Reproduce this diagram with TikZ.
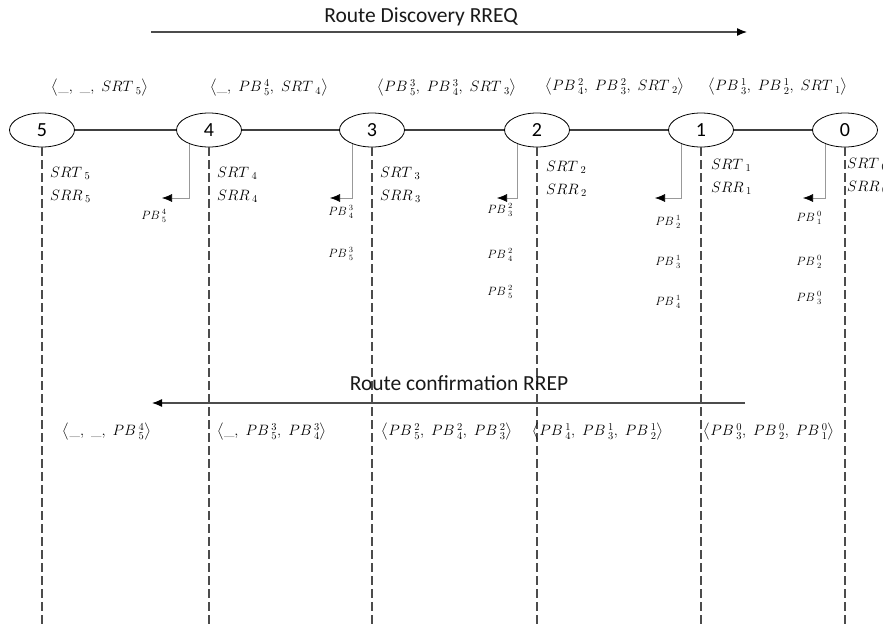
\documentclass[tikz,border=0pt]{standalone}
\usepackage{fix-cm}
\usepackage{amsmath}
\usepackage{fontspec}
\setsansfont{Carlito}
\usepackage{tikz}
\usetikzlibrary{positioning,calc,arrows.meta,shapes.geometric}

\newcommand{\tupl}[3]{$\big\langle #1,\ #2,\ #3\big\rangle$}

\begin{document}
\begin{tikzpicture}[
	x=1pt, y=-1pt,
	station/.style={
		ellipse, draw=black, thick,
		minimum width=65pt, minimum height=34pt, inner sep=0pt,
		font=\sffamily\fontsize{20}{22}\selectfont
	},
	link/.style={draw=black!75, line width=1.3pt},
	lifeline/.style={draw=black!70, line width=1.3pt, dash pattern=on 9pt off 4pt},
	pbarrow/.style={draw=black!40, line width=0.6pt, -{Latex[black,length=10pt,width=8pt]}},
	flow/.style={draw=black!70, line width=1.2pt, -{Latex[black,length=10pt,width=8pt]}},
	flow_text/.style={font=\sffamily\fontsize{21.5}{23}\selectfont, text=black!90},
	lbl/.style={font=\fontsize{15}{17}\selectfont, text=black, anchor=west, inner sep=0pt},
	pb/.style={font=\fontsize{12}{14}\selectfont, text=black, inner sep=0pt},
	tuple/.style={font=\fontsize{15}{17}\selectfont, text=black, inner sep=0pt}
	]
	\useasboundingbox (0,0) rectangle (883,624);
	
	% === ROUTE DISCOVERY (top) ===
	\coordinate (rq_from) at (151,32);
	\coordinate (rq_to) at (747,32);
	\draw[flow] (rq_from) -- (rq_to);
	\node[flow_text] (rq_text) at (421,17) {Route Discovery RREQ};
	
	% === NODES 5 ... 0 ===
	\foreach \k/\x in {5/42, 4/209, 3/372, 2/537, 1/701, 0/845} {
		\node[station] (n\k) at (\x,130) {\k};
		\coordinate (e\k) at (\x,624);
	}
	\foreach \a/\b in {5/4, 4/3, 3/2, 2/1, 1/0} {
		\draw[link] (n\a) -- (n\b);
	}
	% lifelines
	\foreach \k in {5,...,0} {
		\draw[lifeline] (n\k) -- (e\k);
	}
	
	% Tuples above nodes
	\node[tuple] (up5) at (100,88) {\tupl{\_}{\_}{SRT\,{}_{5}}};
	\node[tuple] (up4) at (269,88) {\tupl{\_}{PB\,{}^{4}_{5}}{SRT\,{}_{4}}};
	\node[tuple] (up3) at (447,88) {\tupl{PB\,{}^{3}_{5}}{PB\,{}^{3}_{4}}{SRT\,{}_{3}}};
	\node[tuple] (up2) at (615,87) {\tupl{PB\,{}^{2}_{4}}{PB\,{}^{2}_{3}}{SRT\,{}_{2}}};
	\node[tuple] (up1) at (778,87) {\tupl{PB\,{}^{1}_{3}}{PB\,{}^{1}_{2}}{SRT\,{}_{1}}};
	
	% SRT / SRR of each node
	\foreach \k/\x/\y in {5/50/173, 4/217/173, 3/380/173, 2/546/167, 1/711/165, 0/847/164} {
		\node[lbl] (srt\k) at (\x,\y) {$SRT\,{}_{\k}$};
		\node[lbl] (srr\k) at (\x,\y+23) {$SRR\,{}_{\k}$};
	}
	
	% Small arrows to the stored PB values
	\foreach \k/\x in {4/162, 3/330, 2/497, 1/655, 0/803} {
		\coordinate (t\k) at (\x,198);
		\draw[pbarrow] (n\k.-145) |- (t\k);
	}
	
	% PB values
	\node[pb] (pb54) at (154,216) {$PB\,{}^{4}_{5}$};
	\node[pb] (pb43) at (341,212) {$PB\,{}^{3}_{4}$};
	\node[pb] (pb53) at (341,254) {$PB\,{}^{3}_{5}$};
	\node[pb] (pb32) at (500,210) {$PB\,{}^{2}_{3}$};
	\node[pb] (pb42) at (500,255) {$PB\,{}^{2}_{4}$};
	\node[pb] (pb52) at (500,292) {$PB\,{}^{2}_{5}$};
	\node[pb] (pb21) at (668,222) {$PB\,{}^{1}_{2}$};
	\node[pb] (pb31) at (668,262) {$PB\,{}^{1}_{3}$};
	\node[pb] (pb41) at (668,302) {$PB\,{}^{1}_{4}$};
	\node[pb] (pb10) at (809,218) {$PB\,{}^{0}_{1}$};
	\node[pb] (pb20) at (809,262) {$PB\,{}^{0}_{2}$};
	\node[pb] (pb30) at (809,298) {$PB\,{}^{0}_{3}$};
	
	% === ROUTE CONFIRMATION (bottom) ===
	\coordinate (rp_from) at (745,403);
	\coordinate (rp_to) at (152,403);
	\draw[flow] (rp_from) -- (rp_to);
	\node[flow_text] (rp_text) at (459,383) {Route confirmation RREP};
	
	\node[tuple] (dn5) at (107,432) {\tupl{\_}{\_}{PB\,{}^{4}_{5}}};
	\node[tuple] (dn4) at (272,432) {\tupl{\_}{PB\,{}^{3}_{5}}{PB\,{}^{3}_{4}}};
	\node[tuple] (dn3) at (447,432) {\tupl{PB\,{}^{2}_{5}}{PB\,{}^{2}_{4}}{PB\,{}^{2}_{3}}};
	\node[tuple] (dn2) at (598,432) {\tupl{PB\,{}^{1}_{4}}{PB\,{}^{1}_{3}}{PB\,{}^{1}_{2}}};
	\node[tuple] (dn1) at (769,432) {\tupl{PB\,{}^{0}_{3}}{PB\,{}^{0}_{2}}{PB\,{}^{0}_{1}}};
	
\end{tikzpicture}
\end{document}
